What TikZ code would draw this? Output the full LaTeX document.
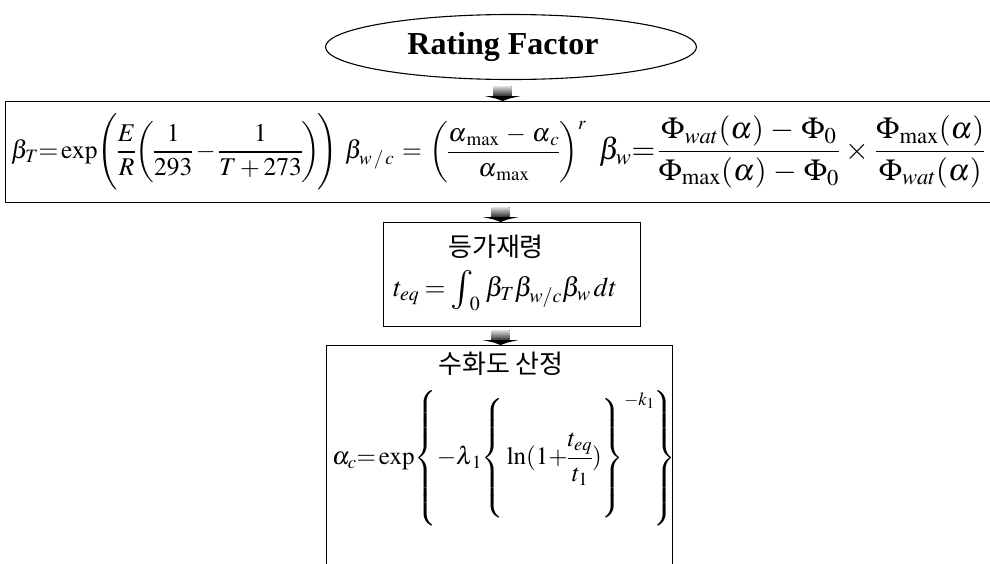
\documentclass[tikz,border=0pt]{standalone}
\usepackage{mathptmx}
\usepackage[no-math]{fontspec}
\usepackage{graphicx}
\setmainfont{Liberation Serif}
\newfontfamily\krfont{Noto Sans CJK KR}
\usetikzlibrary{shapes.geometric,calc}
\newcommand\blkarrow[1]{%
  \fill[top color=gray!25, bottom color=black!85] ($#1+(-9,-15)$) rectangle ($#1+(9,-4.5)$);
  \fill[black] ($#1+(-18,-5)$) -- ($#1+(18,-5)$) -- ($#1+(7,-2.5)$) -- #1 -- ($#1+(-7,-2.5)$) -- cycle;}
\newcommand\mathtight{\thinmuskip=2mu\medmuskip=2.5mu plus 1mu\thickmuskip=3.5mu\nulldelimiterspace=0pt\scriptspace=0.5pt\delimitershortfall=-2pt\relax}
\newcommand\mathwide{\medmuskip=4mu\relax}
\begin{document}
\begin{tikzpicture}[x=1pt,y=-1pt,
  boxst/.style={draw, line width=1.2pt, anchor=north west, inner sep=0pt},
  fml/.style={inner sep=0pt, anchor=west, font=\fontsize{25.5}{31}\selectfont\mathtight},
  fmlw/.style={inner sep=0pt, anchor=west, font=\fontsize{30.5}{36}\selectfont\mathtight\mathwide},
  fmlb/.style={inner sep=0pt, anchor=west, font=\fontsize{27}{32}\selectfont\mathtight},
  fmlc/.style={inner sep=0pt, anchor=west, font=\fontsize{25}{30}\selectfont\mathtight},
  kr/.style={inner sep=0pt, font=\fontsize{26}{31}\selectfont\krfont}]
\useasboundingbox (0,0) rectangle (990,563);
% title
\node[ellipse, draw, line width=1.1pt, minimum width=371pt, minimum height=65pt,
      inner sep=0pt, font=\fontsize{32}{36}\selectfont\bfseries] (ell) at (511,47) {Rating Factor\hspace*{16pt}};
% boxes
\node[boxst, minimum width=1000pt, minimum height=101pt] (box1) at (5,101) {};
\node[boxst, minimum width=257pt, minimum height=104pt] (box2) at (383,222) {};
\node[boxst, minimum width=346pt, minimum height=250pt] (box3) at (326,345) {};
% box 1 formulas
\node[fml] (bT) at (11,152) {$\displaystyle \beta_T{=}\exp\!\left(\frac{E}{R}\!\left(\frac{1}{293}-\frac{1}{T+273}\right)\!\right)$};
\node[fml] (bwc) at (345,152) {$\displaystyle \beta_{w\,/\,c}\,=\,\left(\frac{\alpha_{\,\max}\,-\,\alpha_{\,c}}{\alpha_{\,\max}}\right)^{r}$};
\node[fmlw] (bw) at (599,152) {$\displaystyle \beta_w{=}\,\frac{\Phi_{wat}(\alpha)-\Phi_0}{\Phi_{\max}(\alpha)-\Phi_0}\times\frac{\Phi_{\max}(\alpha)}{\Phi_{wat}(\alpha)}$};
% box 2
\node[kr] (k2) at (496,247) {등가재령};
\node[fmlb] (teq) at (393,291) {$t_{eq}=\raisebox{-0.12em}{\scalebox{1.45}{$\int$}}_{\!\!0}\;\beta_T\beta_{w/c}\beta_w\,dt$};
% box 3
\node[fmlc] (ac) at (332,458) {$\displaystyle\alpha_c{=}\exp\!\left\{\vrule height 56pt depth 56pt width 0pt -\lambda_{\,1}\!\left\{\vrule height 51pt depth 51pt width 0pt\,\ln(1{+}\frac{t_{eq}}{t_1})\right\}^{-k_1}\mkern-1mu\right\}$};
\node[kr] (k3) at (501,364) {수화도 산정};
% arrows
\path (box1.north) ++(-3,0) coordinate (t1);
\path (box2.north) ++(-11.5,0) coordinate (t2);
\path (box3.north) ++(1,0) coordinate (t3);
\blkarrow{(t1)}
\blkarrow{(t2)}
\blkarrow{(t3)}
\end{tikzpicture}
\end{document}
